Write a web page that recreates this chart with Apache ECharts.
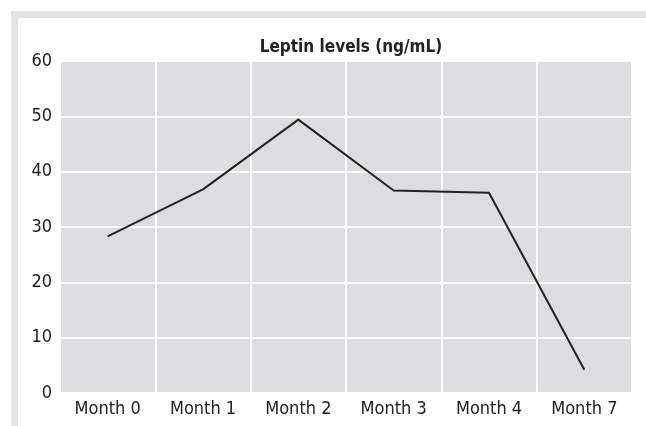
<!DOCTYPE html>
<html>
<head>
<meta charset="utf-8">
<script src="https://cdn.jsdelivr.net/npm/echarts@6/dist/echarts.min.js"></script>
<style>
html,body{margin:0;padding:0;background:#fff;}
#c{width:646px;height:426px;}
</style>
</head>
<body>
<div id="c"></div>
<script>
const categories = ['Month 0', 'Month 1', 'Month 2', 'Month 3', 'Month 4', 'Month 7'];
const leptin = [28.3, 36.8, 49.4, 36.6, 36.2, 4.2];
const yTicks = [0, 10, 20, 30, 40, 50, 60];
const titleText = 'Leptin levels (ng/mL)';

const FONT = '"Liberation Sans Narrow", "DejaVu Sans Condensed", sans-serif';
const chart = echarts.init(document.getElementById('c'), null, {renderer: 'canvas'});
chart.setOption({
  animation: false,
  backgroundColor: '#ffffff',
  graphic: [
    {type: 'rect', shape: {x: 11, y: 11, width: 635, height: 7}, style: {fill: '#e3e3e3'}, z: -10},
    {type: 'rect', shape: {x: 11, y: 11, width: 7, height: 415}, style: {fill: '#e3e3e3'}, z: -10}
  ],
  title: {
    text: titleText,
    left: 346, top: 34, textAlign: 'center',
    textStyle: {fontFamily: FONT, fontSize: 17, fontWeight: 'bold', color: '#222'}
  },
  grid: {
    left: 60, right: 14, top: 61, bottom: 33,
    show: true, backgroundColor: '#dddde0', borderWidth: 0
  },
  xAxis: {
    type: 'category',
    data: categories,
    boundaryGap: true,
    axisLine: {show: false},
    axisTick: {show: false},
    axisLabel: {fontFamily: FONT, fontSize: 18, color: '#222', margin: 7},
    splitLine: {show: true, interval: 0, lineStyle: {color: '#ffffff', width: 2}}
  },
  yAxis: {
    type: 'value',
    min: yTicks[0], max: yTicks[yTicks.length - 1], interval: 10,
    axisLine: {show: false},
    axisTick: {show: false},
    axisLabel: {fontFamily: FONT, fontSize: 18, color: '#222', margin: 8},
    splitLine: {show: true, lineStyle: {color: '#ffffff', width: 2}}
  },
  series: [{
    type: 'line',
    data: leptin,
    symbol: 'none',
    lineStyle: {color: '#222222', width: 2},
    z: 5
  }]
});
</script>
</body>
</html>
